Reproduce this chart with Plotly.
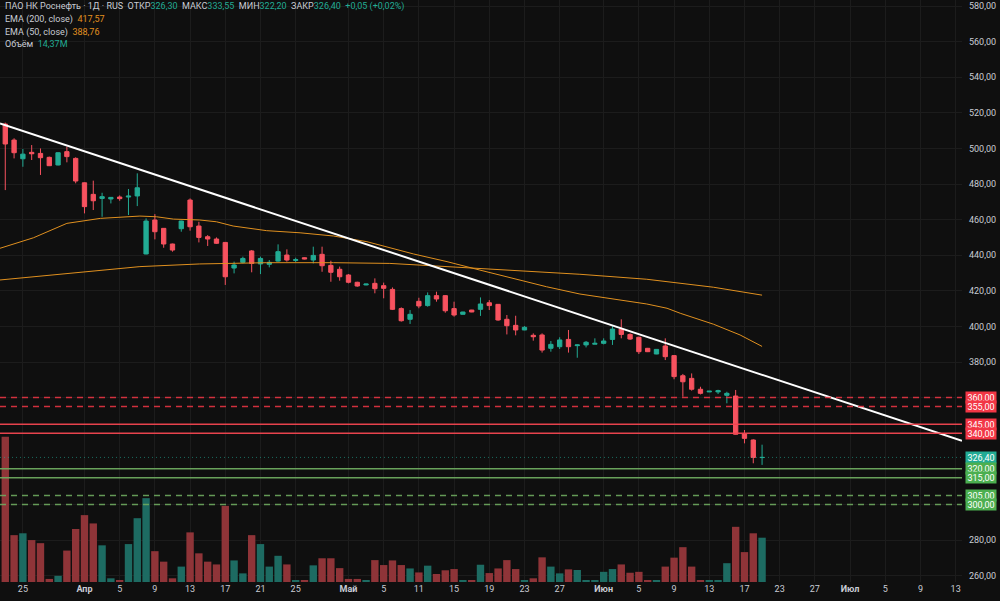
import plotly.graph_objects as go

# ---------------- data ----------------
opens = [513.7, 504.7, 494.2, 497.8, 497.2, 495.0, 490.7, 498.2, 494.4, 480.7,
         474.2, 471.9, 471.6, 472.7, 472.7, 473.3, 440.7, 459.8, 455.1, 446.3,
         454.9, 471.0, 456.4, 450.4, 449.1, 447.2, 432.8, 436.0, 442.4, 435.1,
         434.9, 436.7, 440.1, 437.1, 438.6, 437.3, 440.5, 434.3, 432.1, 428.9,
         424.8, 423.3, 424.2, 422.9, 420.8, 410.0, 404.0, 414.1, 411.7, 417.3,
         417.3, 410.0, 406.8, 409.2, 409.6, 413.3, 412.4, 404.0, 400.6, 398.0,
         395.0, 395.2, 387.7, 388.6, 392.7, 389.2, 389.6, 390.0, 390.5, 392.7,
         398.5, 395.5, 393.9, 387.7, 384.5, 389.0, 383.6, 372.3, 370.8, 364.7,
         363.2, 363.2, 361.3, 360.9, 339.6, 336.2, 326.30]
highs = [514.5, 505.7, 499.7, 501.9, 500.0, 495.4, 497.8, 501.0, 495.0, 480.9,
         481.9, 475.1, 472.6, 473.6, 477.2, 486.0, 460.7, 463.1, 455.3, 446.5,
         459.4, 471.9, 458.8, 451.3, 450.0, 447.4, 436.4, 439.2, 442.9, 439.2,
         437.3, 446.1, 443.3, 438.6, 438.8, 444.8, 444.8, 436.9, 433.6, 429.4,
         425.1, 423.9, 427.0, 424.6, 421.9, 410.7, 409.2, 416.1, 419.1, 419.5,
         417.6, 413.9, 408.2, 409.3, 416.3, 414.8, 412.6, 406.4, 406.0, 400.2,
         396.1, 396.1, 391.8, 393.9, 398.0, 389.9, 391.8, 393.3, 393.3, 400.2,
         404.0, 396.1, 394.2, 387.9, 387.2, 393.3, 383.9, 373.3, 373.6, 366.1,
         363.7, 364.4, 363.3, 364.3, 341.8, 336.6, 333.55]
lows = [476.6, 494.4, 489.7, 493.5, 485.1, 490.1, 490.5, 492.2, 480.4, 463.5,
        465.4, 461.6, 469.1, 470.6, 462.6, 467.6, 440.5, 448.9, 444.2, 442.0,
        453.2, 453.8, 447.2, 445.2, 446.3, 423.3, 429.8, 435.4, 430.4, 429.4,
        433.2, 436.4, 436.4, 436.2, 437.7, 435.4, 430.7, 425.1, 425.7, 424.2,
        422.3, 423.1, 418.6, 415.8, 409.2, 402.7, 401.4, 410.2, 411.1, 413.9,
        407.7, 405.5, 406.7, 408.0, 405.9, 409.2, 403.2, 395.5, 395.0, 397.9,
        392.0, 385.3, 385.8, 387.3, 385.3, 382.4, 388.2, 390.0, 389.9, 389.6,
        393.3, 392.4, 384.5, 385.6, 384.4, 381.1, 370.3, 360.5, 363.9, 361.8,
        363.1, 362.0, 356.8, 339.2, 334.3, 323.1, 322.20]
closes = [502.5, 497.6, 496.8, 497.0, 494.8, 490.3, 497.6, 495.4, 481.7, 467.3,
          470.6, 472.9, 472.5, 471.8, 473.2, 477.9, 459.2, 453.2, 446.3, 442.9,
          459.2, 456.0, 450.0, 449.1, 446.7, 427.9, 434.5, 438.2, 435.4, 438.2,
          436.0, 442.0, 437.3, 437.5, 437.9, 439.9, 434.1, 430.4, 427.9, 424.8,
          422.7, 423.8, 421.2, 421.4, 409.6, 403.2, 406.8, 411.5, 417.3, 415.4,
          408.8, 406.4, 408.1, 408.1, 412.6, 411.7, 403.6, 400.4, 398.0, 399.5,
          394.2, 386.7, 389.9, 392.4, 388.6, 389.6, 391.1, 390.5, 391.8, 398.5,
          395.5, 392.9, 385.8, 385.8, 387.1, 383.0, 371.8, 368.9, 364.7, 362.4,
          363.6, 363.9, 362.4, 339.4, 337.1, 326.35, 326.40]
volumes = [47.1, 15.2, 15.8, 13.6, 12.6, 1.0, 2.0, 10.2, 17.2, 21.7,
           19.0, 11.9, 1.2, 0.6, 12.3, 20.7, 27.2, 10.0, 6.6, 1.2,
           5.0, 16.1, 9.3, 6.6, 5.7, 24.7, 7.0, 2.8, 15.2, 12.3,
           5.0, 8.5, 5.7, 0.6, 0.5, 5.4, 7.7, 7.7, 4.5, 1.0,
           1.0, 0.6, 7.1, 5.5, 7.0, 5.5, 4.4, 3.1, 5.3, 2.6,
           3.8, 4.2, 0.4, 0.4, 5.6, 2.9, 4.4, 7.1, 4.2, 0.5,
           1.2, 8.0, 5.0, 2.8, 4.1, 3.9, 0.5, 0.5, 3.3, 4.2,
           5.7, 3.0, 3.3, 0.5, 0.5, 5.0, 7.9, 11.3, 5.0, 0.5,
           0.5, 0.5, 6.1, 17.9, 9.7, 15.8, 14.37]
bars = list(range(len(opens)))

ema200_x = [-0.6, 7.0, 15.3, 22.1, 29.7, 37.3, 43.7, 50.2, 57.7, 65.3, 72.9, 76.7, 80.5, 86.0]
ema200_y = [426.1, 429.8, 433.6, 435.1, 435.8, 435.8, 435.4, 433.6, 431.3, 429.3, 426.5, 424.3, 422.0, 417.57]
ema50_x = [-0.6, 3.2, 7.0, 10.8, 15.3, 17.2, 19.1, 22.1, 24.0, 25.9, 29.7, 33.5, 37.3, 41.1,
           46.4, 50.2, 53.9, 57.7, 61.5, 65.3, 69.1, 72.9, 75.2, 76.7, 80.5, 83.5, 86.0]
ema50_y = [443.9, 449.8, 457.9, 460.7, 462.0, 461.6, 460.3, 459.8, 458.8, 456.4, 453.8, 452.6, 450.8, 447.6,
           440.7, 436.4, 431.7, 427.0, 422.3, 418.2, 415.2, 412.6, 410.2, 407.4, 401.2, 395.2, 388.76]

trend_x = [0, 70]
trend_y = [513.1, 398.9]

dashed_red_levels = [360, 355]
solid_red_levels = [345, 340]
solid_green_levels = [320, 315]
dashed_green_levels = [305, 300]
last_price = 326.40

tick_pos = [2, 9, 13, 17, 21, 25, 29, 33, 39, 43, 47, 51, 55, 59, 63, 68, 72, 76, 80, 84, 88, 92, 96, 100, 104, 108]
tick_text = ["25", "<b>Апр</b>", "5", "9", "13", "17", "21", "25", "<b>Май</b>", "5", "11", "15", "19",
             "23", "27", "<b>Июн</b>", "5", "9", "13", "17", "23", "27", "<b>Июл</b>", "5", "9", "13"]
price_ticks = [260, 280, 300, 320, 340, 360, 380, 400, 420, 440, 460, 480, 500, 520, 540, 560, 580]
hidden_price_ticks = [300, 320, 340, 360]

X_RANGE = [-0.6, 108.72]
PRICE_RANGE = [256.4, 583.4]
VOL_RANGE = [0, 188.8]

# ---------------- styling ----------------
BG = "#0f0f0f"
GRID = "#1c1c1c"
TXT = "#c9ccd4"
UP = "#22ab94"
DOWN = "#f7525f"
UP_VOL = "#1d6b62"
DOWN_VOL = "#8f3438"
RED_LVL = "#f23645"
GREEN_LVL = "#4caf50"
ORANGE = "#e0901f"
FONT = "Roboto"


def fmt(v):
    return f"{v:.2f}".replace(".", ",")


fig = go.Figure()

vol_colors = [UP_VOL if c >= o else DOWN_VOL for o, c in zip(opens, closes)]
fig.add_trace(go.Bar(x=bars, y=volumes, marker=dict(color=vol_colors, line=dict(width=0)),
                     width=0.84, yaxis="y", hoverinfo="skip", showlegend=False))

fig.add_trace(go.Scatter(x=ema200_x, y=ema200_y, mode="lines", line=dict(color=ORANGE, width=1),
                         yaxis="y2", showlegend=False, hoverinfo="skip"))
fig.add_trace(go.Scatter(x=ema50_x, y=ema50_y, mode="lines", line=dict(color=ORANGE, width=1),
                         yaxis="y2", showlegend=False, hoverinfo="skip"))

fig.add_trace(go.Candlestick(x=bars, open=opens, high=highs, low=lows, close=closes, yaxis="y2",
                             increasing=dict(line=dict(color=UP, width=1), fillcolor=UP),
                             decreasing=dict(line=dict(color=DOWN, width=1), fillcolor=DOWN),
                             showlegend=False))

# trend line extended to the right edge from its two anchors
slope = (trend_y[1] - trend_y[0]) / (trend_x[1] - trend_x[0])
tx = [X_RANGE[0], X_RANGE[1]]
ty = [trend_y[0] + slope * (v - trend_x[0]) for v in tx]
fig.add_trace(go.Scatter(x=tx, y=ty, mode="lines", line=dict(color="#ffffff", width=2),
                         yaxis="y2", showlegend=False, hoverinfo="skip"))

shapes = []
for lv in dashed_red_levels:
    shapes.append(dict(type="line", xref="paper", x0=0, x1=1, yref="y2", y0=lv, y1=lv,
                       line=dict(color="rgba(242,54,69,0.85)", width=1.5, dash="6px,5px")))
for lv in solid_red_levels:
    shapes.append(dict(type="line", xref="paper", x0=0, x1=1, yref="y2", y0=lv, y1=lv,
                       line=dict(color="rgba(242,70,80,0.95)", width=1.5)))
for lv in solid_green_levels:
    shapes.append(dict(type="line", xref="paper", x0=0, x1=1, yref="y2", y0=lv, y1=lv,
                       line=dict(color="rgba(110,170,95,0.95)", width=1.5)))
for lv in dashed_green_levels:
    shapes.append(dict(type="line", xref="paper", x0=0, x1=1, yref="y2", y0=lv, y1=lv,
                       line=dict(color="rgba(110,170,95,0.9)", width=1.5, dash="6px,5px")))
shapes.append(dict(type="line", xref="paper", x0=0, x1=1, yref="y2", y0=last_price, y1=last_price,
                   line=dict(color="rgba(34,171,148,0.6)", width=1, dash="1px,3px")))

annotations = []


def level_box(val, color):
    annotations.append(dict(xref="paper", x=1, xanchor="left", xshift=3, yref="y2", y=val,
                            yanchor="middle", text=fmt(val), showarrow=False, bgcolor=color,
                            width=28, height=9, borderpad=1,
                            font=dict(family=FONT, size=9, color="#ffffff")))


for lv in dashed_red_levels + solid_red_levels:
    level_box(lv, RED_LVL)
level_box(last_price, UP)
for lv in solid_green_levels + dashed_green_levels:
    level_box(lv, GREEN_LVL)

legend_lines = [
    ("ПАО НК Роснефть · 1Д · RUS&nbsp;&nbsp;ОТКР<span style='color:%s'>326,30</span>&nbsp;&nbsp;"
     "МАКС<span style='color:%s'>333,55</span>&nbsp;&nbsp;МИН<span style='color:%s'>322,20</span>&nbsp;&nbsp;"
     "ЗАКР<span style='color:%s'>326,40</span>&nbsp;&nbsp;<span style='color:%s'>+0,05 (+0,02%%)</span>"
     % (UP, UP, UP, UP, UP), 7),
    ("EMA (200, close)&nbsp;&nbsp;<span style='color:%s'>417,57</span>" % ORANGE, 20),
    ("EMA (50, close)&nbsp;&nbsp;<span style='color:%s'>388,76</span>" % ORANGE, 32),
    ("Объём&nbsp;&nbsp;<span style='color:%s'>14,37M</span>" % UP, 44),
]
for txt, ypx in legend_lines:
    annotations.append(dict(xref="paper", yref="paper", x=0, xanchor="left", xshift=3,
                            y=1 - ypx / 582.0, yanchor="middle", text=txt, showarrow=False,
                            font=dict(family=FONT, size=9, color=TXT)))

price_text = ["" if v in hidden_price_ticks else fmt(v) for v in price_ticks]

fig.update_layout(
    width=1000, height=601,
    margin=dict(l=0, r=38, t=0, b=19),
    paper_bgcolor=BG, plot_bgcolor=BG,
    showlegend=False, hovermode=False,
    shapes=shapes, annotations=annotations,
    font=dict(family=FONT, size=9, color=TXT),
    xaxis=dict(range=X_RANGE, tickmode="array", tickvals=tick_pos, ticktext=tick_text,
               showgrid=True, gridcolor=GRID, gridwidth=1, zeroline=False, showline=False,
               ticks="", tickfont=dict(family=FONT, size=9, color=TXT),
               rangeslider=dict(visible=False), fixedrange=True),
    yaxis=dict(range=VOL_RANGE, showgrid=False, zeroline=False, showticklabels=False,
               showline=False, fixedrange=True),
    yaxis2=dict(range=PRICE_RANGE, overlaying="y", side="right", tickmode="array",
                tickvals=price_ticks, ticktext=price_text, showgrid=True, gridcolor=GRID,
                zeroline=False, showline=False, ticks="", ticklabelstandoff=6,
                tickfont=dict(family=FONT, size=9, color=TXT), fixedrange=True),
)

fig.write_html("out.html")
